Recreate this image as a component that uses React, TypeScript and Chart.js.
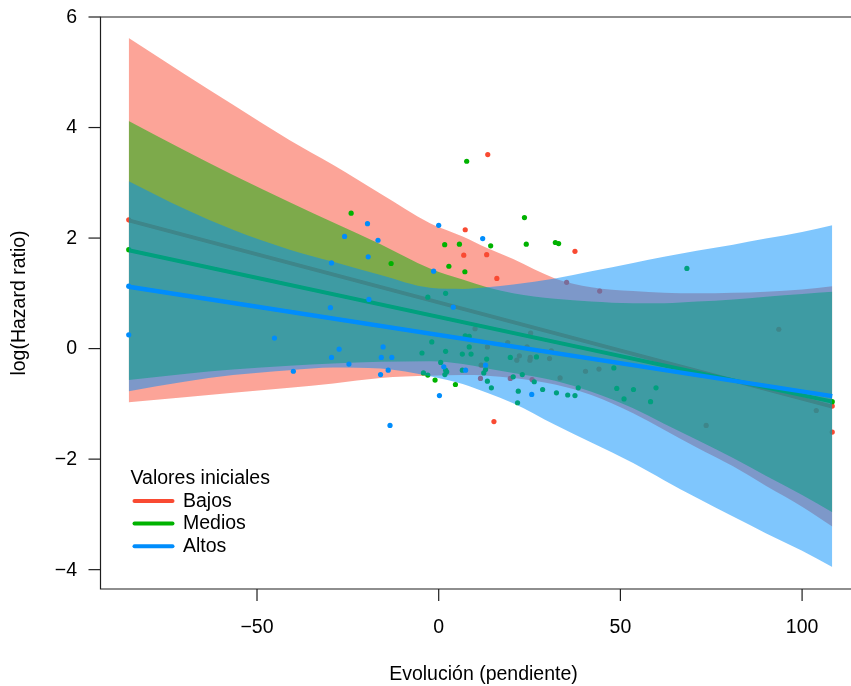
import React, { useEffect, useRef } from 'react';
import { Chart, registerables } from 'chart.js';

Chart.register(...registerables);

// ---------- data ----------
const bandX = [-85.3, -70, -56.6, -41, -29, -16, -2.4, 6.6, 13.3, 20.5, 32, 42, 53.5, 62, 71, 81, 90, 100, 108.3];

const bajosUpper = [5.62, 4.97, 4.41, 3.77, 3.32, 2.8, 2.27, 2.03, 1.82, 1.62, 1.27, 1.11, 1.04, 1.01, 1.0, 1.01, 1.03, 1.07, 1.13];
const bajosLower = [-0.97, -0.88, -0.8, -0.71, -0.63, -0.53, -0.49, -0.48, -0.49, -0.53, -0.65, -0.84, -1.17, -1.47, -1.79, -2.13, -2.48, -2.86, -3.22];

const mediosUpper = [4.12, 3.59, 3.14, 2.65, 2.28, 1.89, 1.45, 1.25, 1.11, 1.0, 0.9, 0.85, 0.82, 0.82, 0.85, 0.89, 0.94, 0.99, 1.03];
const mediosLower = [-0.57, -0.46, -0.38, -0.31, -0.27, -0.24, -0.23, -0.28, -0.36, -0.44, -0.58, -0.78, -1.08, -1.36, -1.65, -1.98, -2.3, -2.65, -2.96];

const altosUpper = [3.03, 2.53, 2.15, 1.79, 1.57, 1.33, 1.1, 1.08, 1.11, 1.16, 1.27, 1.4, 1.55, 1.66, 1.77, 1.88, 1.99, 2.11, 2.23];
const altosLower = [-0.77, -0.6, -0.48, -0.39, -0.34, -0.36, -0.5, -0.64, -0.8, -0.99, -1.38, -1.7, -2.07, -2.38, -2.7, -3.04, -3.34, -3.66, -3.95];

const lineX = [-85.3, 108.3];
const bajosLine = [2.32, -1.05];
const mediosLine = [1.78, -0.96];
const altosLine = [1.12, -0.86];

const bajosPoints: [number, number][] = [
  [13.5, 3.51], [7.3, 2.15], [37.5, 1.76], [6.9, 1.69], [13.2, 1.7], [16.0, 1.27], [35.2, 1.2], [44.3, 1.04],
  [10.0, 0.36], [25.3, 0.28], [93.6, 0.35], [19.0, 0.11], [13.4, 0.03], [24.3, 0.03], [31.0, -0.04], [21.5, -0.21],
  [22.2, -0.13], [25.1, -0.21], [25.2, -0.16], [30.5, -0.18], [11.7, -0.3], [11.5, -0.54], [19.7, -0.54], [25.7, -0.56],
  [33.4, -0.53], [40.4, -0.41], [44.1, -0.37], [73.6, -1.39], [103.9, -1.12], [108.3, -1.04], [108.3, -1.51],
  [15.2, -1.32], [-85.3, 2.33],
];

const mediosPoints: [number, number][] = [
  [7.7, 3.39], [23.6, 2.37], [1.65, 1.88], [5.7, 1.89], [14.3, 1.86], [24.1, 1.89], [32.1, 1.92], [33.0, 1.9],
  [2.8, 1.49], [7.2, 1.39], [-24.1, 2.45], [-13.1, 1.54], [68.3, 1.45], [-3.0, 0.93], [1.9, 1.0], [-1.9, 0.12],
  [7.3, 0.23], [8.4, 0.22], [8.4, 0.03], [-4.6, -0.08], [1.9, -0.05], [6.5, -0.1], [8.9, -0.1], [13.2, -0.19],
  [0.55, -0.25], [19.7, -0.16], [26.9, -0.15], [1.9, -0.39], [2.2, -0.42], [1.7, -0.47], [6.5, -0.39], [12.4, -0.44],
  [12.9, -0.38], [-4.2, -0.44], [-3.0, -0.48], [-1.0, -0.57], [4.6, -0.65], [20.5, -0.51], [23.0, -0.47], [26.3, -0.6],
  [48.2, -0.35], [13.4, -0.59], [14.5, -0.71], [28.6, -0.74], [21.9, -0.77], [32.4, -0.8], [35.5, -0.84], [37.5, -0.85],
  [21.7, -0.98], [38.4, -0.71], [49.0, -0.72], [53.6, -0.74], [51.0, -0.91], [59.8, -0.71], [58.3, -0.96],
  [-85.3, 1.79], [108.3, -0.96],
];

const altosPoints: [number, number][] = [
  [0, 2.23], [12.1, 1.99], [-1.4, 1.4], [4.0, 0.75], [1.4, -0.33], [7.4, -0.39], [12.9, -0.3], [25.6, -0.83],
  [0.2, -0.85], [-19.6, 2.26], [-25.9, 2.03], [-16.7, 1.96], [-29.5, 1.55], [-19.4, 1.66], [-19.2, 0.89],
  [-29.8, 0.74], [-85.3, 0.25], [-45.2, 0.19], [-15.3, 0.03], [-27.4, -0.01], [-29.5, -0.16], [-15.8, -0.16],
  [-12.9, -0.16], [-24.7, -0.28], [-40.0, -0.41], [-13.9, -0.39], [-16.0, -0.47], [-13.4, -1.39], [-85.3, 1.13],
];

const xTicks = [-50, 0, 50, 100];
const xTickLabels = ['\u221250', '0', '50', '100'];
const yTicks = [-4, -2, 0, 2, 4, 6];
const yTickLabels = ['\u22124', '\u22122', '0', '2', '4', '6'];

const legendTitle = 'Valores iniciales';
const groupNames = ['Bajos', 'Medios', 'Altos'];
const xTitle = 'Evolución (pendiente)';
const yTitle = 'log(Hazard ratio)';

// ---------- style ----------
const RED = 'rgb(249,74,50)';
const GREEN = 'rgb(0,178,0)';
const BLUE = 'rgb(0,141,252)';
const RED_A = 'rgba(249,74,50,0.5)';
const GREEN_A = 'rgba(0,178,0,0.5)';
const BLUE_A = 'rgba(0,141,252,0.5)';
const COLORS = [RED, GREEN, BLUE];
const FONT = '19.5px "Liberation Sans", Arial, Helvetica, sans-serif';

const toXY = (xs: number[], ys: number[]) => xs.map((x, i) => ({ x, y: ys[i] }));
const ptsXY = (p: [number, number][]) => p.map(([x, y]) => ({ x, y }));

const rAxesPlugin = {
  id: 'rAxes',
  afterDraw(chart: any) {
    const { ctx, chartArea: a, scales } = chart;
    const xs = scales.x;
    const ys = scales.y;
    ctx.save();
    ctx.strokeStyle = '#1e1e1e';
    ctx.lineWidth = 1.2;
    ctx.beginPath();
    ctx.moveTo(a.right, a.top);
    ctx.lineTo(a.left, a.top);
    ctx.lineTo(a.left, a.bottom);
    ctx.lineTo(a.right, a.bottom);
    ctx.stroke();

    ctx.font = FONT;
    ctx.fillStyle = '#000';
    // y ticks
    yTicks.forEach((v, i) => {
      const py = ys.getPixelForValue(v);
      ctx.beginPath();
      ctx.moveTo(a.left, py);
      ctx.lineTo(a.left - 12, py);
      ctx.stroke();
      ctx.textAlign = 'right';
      ctx.textBaseline = 'middle';
      ctx.fillText(yTickLabels[i], a.left - 23.5, py + 0.5);
    });
    // x ticks
    xTicks.forEach((v, i) => {
      const px = xs.getPixelForValue(v);
      ctx.beginPath();
      ctx.moveTo(px, a.bottom);
      ctx.lineTo(px, a.bottom + 12);
      ctx.stroke();
      ctx.textAlign = 'center';
      ctx.textBaseline = 'alphabetic';
      ctx.fillText(xTickLabels[i], px, a.bottom + 44);
    });
    // axis titles
    ctx.textAlign = 'center';
    ctx.textBaseline = 'alphabetic';
    ctx.fillText(xTitle, 483.5, 680);
    ctx.save();
    ctx.translate(25, 303);
    ctx.rotate(-Math.PI / 2);
    ctx.fillText(yTitle, 0, 0);
    ctx.restore();

    // legend
    const lx = a.left + 30;
    ctx.textAlign = 'left';
    ctx.textBaseline = 'middle';
    ctx.fillText(legendTitle, lx, 479);
    groupNames.forEach((name, i) => {
      const yy = 501 + i * 22.6;
      ctx.strokeStyle = COLORS[i];
      ctx.lineWidth = 4;
      ctx.lineCap = 'round';
      ctx.beginPath();
      ctx.moveTo(lx + 4, yy);
      ctx.lineTo(lx + 42, yy);
      ctx.stroke();
      ctx.fillStyle = '#000';
      ctx.fillText(name, lx + 52.5, yy + 0.5);
    });
    ctx.restore();
  },
};

export default function App() {
  const ref = useRef<HTMLCanvasElement | null>(null);

  useEffect(() => {
    if (!ref.current) return;
    const band = (upper: number[], lower: number[], color: string, order: number) => [
      {
        data: toXY(bandX, upper),
        borderWidth: 0,
        pointRadius: 0,
        backgroundColor: color,
        fill: '+1',
        cubicInterpolationMode: 'monotone',
        order,
      },
      {
        data: toXY(bandX, lower),
        borderWidth: 0,
        pointRadius: 0,
        fill: false,
        cubicInterpolationMode: 'monotone',
        order,
      },
    ];
    const line = (ys: number[], color: string, width: number, order: number) => ({
      data: toXY(lineX, ys),
      borderColor: color,
      borderWidth: width,
      pointRadius: 0,
      fill: false,
      order,
    });
    const pts = (p: [number, number][], color: string, order: number) => ({
      data: ptsXY(p),
      showLine: false,
      pointRadius: 2.6,
      pointBorderWidth: 0,
      pointBackgroundColor: color,
      borderColor: color,
      fill: false,
      order,
    });

    const chart = new Chart(ref.current, {
      type: 'line',
      data: {
        datasets: [
          ...band(bajosUpper, bajosLower, RED_A, 12),
          line(bajosLine, RED, 4, 11),
          pts(bajosPoints, RED, 10),
          ...band(mediosUpper, mediosLower, GREEN_A, 9),
          line(mediosLine, GREEN, 4, 8),
          pts(mediosPoints, GREEN, 7),
          ...band(altosUpper, altosLower, BLUE_A, 6),
          line(altosLine, BLUE, 4.5, 5),
          pts(altosPoints, BLUE, 4),
        ] as any,
      },
      options: {
        animation: false,
        responsive: false,
        events: [],
        layout: { autoPadding: false, padding: { left: 100.5, top: 17, right: 0, bottom: 97 } },
        scales: {
          x: { type: 'linear', min: -93.07, max: 113.46, display: false },
          y: { type: 'linear', min: -4.35, max: 6.0, display: false },
        },
        plugins: {
          legend: { display: false },
          tooltip: { enabled: false },
          filler: { propagate: false },
        },
      },
      plugins: [rAxesPlugin],
    });
    return () => chart.destroy();
  }, []);

  return (
    <div style={{ position: 'absolute', left: 0, top: 0, width: 851, height: 686, background: '#fff' }}>
      <canvas ref={ref} width={851} height={686} style={{ display: 'block' }} />
    </div>
  );
}
